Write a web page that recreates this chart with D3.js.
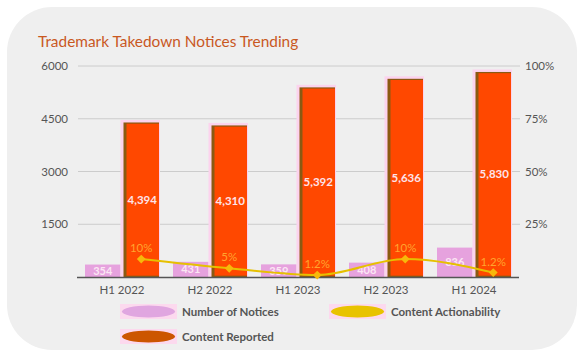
<!DOCTYPE html>
<html><head><meta charset="utf-8">
<script src="https://cdn.jsdelivr.net/npm/d3@7/dist/d3.min.js"></script>
<style>html,body{margin:0;padding:0;background:#fff;}svg{display:block;font-family:Lato,"Noto Sans",sans-serif;}</style>
</head><body>
<script>
const categories = ["H1 2022","H2 2022","H1 2023","H2 2023","H1 2024"];
const notices = [354, 431, 359, 408, 836];
const reported = [4394, 4310, 5392, 5636, 5830];
const actionability = [8.5, 4.1, 0.9, 8.5, 2.1];
const actionabilityLabels = ["10%","5%","1.2%","10%","1.2%"];
const leftTicks = [0, 1500, 3000, 4500, 6000];
const rightTicks = [25, 50, 75, 100];

const W = 582, H = 356;
const svg = d3.select("body").append("svg").attr("width", W).attr("height", H);

// card
svg.append("rect").attr("x",7).attr("y",7).attr("width",570).attr("height",343)
  .attr("rx",45).attr("ry",45).attr("fill","#efefef");

svg.append("text").attr("x",38).attr("y",47).attr("fill","#c9581f")
  .attr("font-size",15.4).text("Trademark Takedown Notices Trending");

const x0 = d3.scaleBand().domain(categories).range([78,518]).padding(0);
const x1 = d3.scaleBand().domain(["n","r"]).range([0,x0.bandwidth()]).paddingInner(0.078).paddingOuter(0.182);
const yL = d3.scaleLinear().domain([0,6000]).range([277,66]);
const yR = d3.scaleLinear().domain([0,100]).range([277,66]);

// grid
const g = svg.append("g");
g.selectAll("line.grid").data(leftTicks.filter(d=>d>0)).join("line")
  .attr("x1",78).attr("x2",520).attr("y1",d=>yL(d)).attr("y2",d=>yL(d))
  .attr("stroke","#cccccc").attr("stroke-width",1);

// left axis
const axL = svg.append("g").attr("transform","translate(78,0)")
  .call(d3.axisLeft(yL).tickValues(leftTicks.filter(d=>d>0)).tickSize(0).tickPadding(10).tickFormat(d3.format("d")));
axL.select(".domain").remove();
axL.selectAll("text").attr("fill","#555").attr("font-size",11.5).attr("font-family","Lato, sans-serif");

// right axis
const axR = svg.append("g").attr("transform","translate(520,0)")
  .call(d3.axisRight(yR).tickValues(rightTicks).tickSize(0).tickPadding(5).tickFormat(d=>d+"%"));
axR.select(".domain").remove();
axR.selectAll("text").attr("fill","#555").attr("font-size",11.5).attr("font-family","Lato, sans-serif");

// notices bars
const bw = x1.bandwidth();
svg.selectAll("rect.n").data(notices).join("rect")
  .attr("x",(d,i)=>x0(categories[i])+x1("n")).attr("y",d=>yL(d))
  .attr("width",bw).attr("height",d=>yL(0)-yL(d)).attr("fill","#e6a2de");

// reported bars (halo, dark edge, fill)
svg.selectAll("rect.rh").data(reported).join("rect")
  .attr("x",(d,i)=>x0(categories[i])+x1("r")-3).attr("y",d=>yL(d)-2.5)
  .attr("width",bw+4).attr("height",d=>yL(0)-yL(d)+2.5).attr("fill","#fcd3ee");
svg.selectAll("rect.rd").data(reported).join("rect")
  .attr("x",(d,i)=>x0(categories[i])+x1("r")).attr("y",d=>yL(d))
  .attr("width",bw).attr("height",d=>yL(0)-yL(d)).attr("fill","#8a5a12");
svg.selectAll("rect.r").data(reported).join("rect")
  .attr("x",(d,i)=>x0(categories[i])+x1("r")+3).attr("y",d=>yL(d)+1.2)
  .attr("width",bw-3).attr("height",d=>yL(0)-yL(d)-2.5).attr("fill","#ff4800");

// baseline
svg.append("line").attr("x1",77).attr("x2",519).attr("y1",277.5).attr("y2",277.5)
  .attr("stroke","#555").attr("stroke-width",1.3);

// bar labels
svg.selectAll("text.nl").data(notices).join("text")
  .attr("x",(d,i)=>x0(categories[i])+x1("n")+bw/2).attr("y",d=>(yL(d)+yL(0))/2+4)
  .attr("text-anchor","middle").attr("fill","#fbe6f3").attr("font-size",11).attr("font-weight","bold")
  .text(d=>d3.format(",")(d));
svg.selectAll("text.rl").data(reported).join("text")
  .attr("x",(d,i)=>x0(categories[i])+x1("r")+bw/2+1).attr("y",d=>(yL(d)+yL(0))/2+4)
  .attr("text-anchor","middle").attr("fill","#fde3ea").attr("font-size",11.5).attr("font-weight","bold")
  .text(d=>d3.format(",")(d));

// line
const px = i => x0(categories[i])+x1("r")+bw/2;
const line = d3.line().x((d,i)=>px(i)).y(d=>yR(d)).curve(d3.curveMonotoneX);
svg.append("path").datum(actionability).attr("d",line).attr("fill","none")
  .attr("stroke","#e6c000").attr("stroke-width",2);
svg.selectAll("path.pt").data(actionability).join("path")
  .attr("transform",(d,i)=>`translate(${px(i)},${yR(d)})`)
  .attr("d",d3.symbol(d3.symbolDiamond2,50)()).attr("fill","#f7b80a");
svg.selectAll("text.al").data(actionability).join("text")
  .attr("x",(d,i)=>px(i)).attr("y",d=>yR(d)-7)
  .attr("text-anchor","middle").attr("fill","#ffa42e").attr("font-size",11.5)
  .text((d,i)=>actionabilityLabels[i]);

// x axis labels
svg.selectAll("text.xl").data(categories).join("text")
  .attr("x",d=>x0(d)+x0.bandwidth()/2).attr("y",294)
  .attr("text-anchor","middle").attr("fill","#555").attr("font-size",11.5).text(d=>d);

// legend
const legend = [
  {name:"Number of Notices", color:"#e0a6e0", x:122, y:311.5},
  {name:"Content Actionability", color:"#e8c300", x:331, y:311.5},
  {name:"Content Reported", color:"#cc5600", x:122, y:336.5}
];
const lg = svg.selectAll("g.lg").data(legend).join("g").attr("transform",d=>`translate(${d.x},${d.y})`);
lg.append("rect").attr("x",-2).attr("y",-7.5).attr("width",57).attr("height",15).attr("fill","#fcd9ee");
lg.append("ellipse").attr("cx",26.5).attr("cy",0).attr("rx",26.5).attr("ry",6).attr("fill",d=>d.color);
lg.append("text").attr("x",60).attr("y",4).attr("fill","#555").attr("font-size",11.5)
  .attr("font-weight","bold").text(d=>d.name);
</script>
</body></html>
